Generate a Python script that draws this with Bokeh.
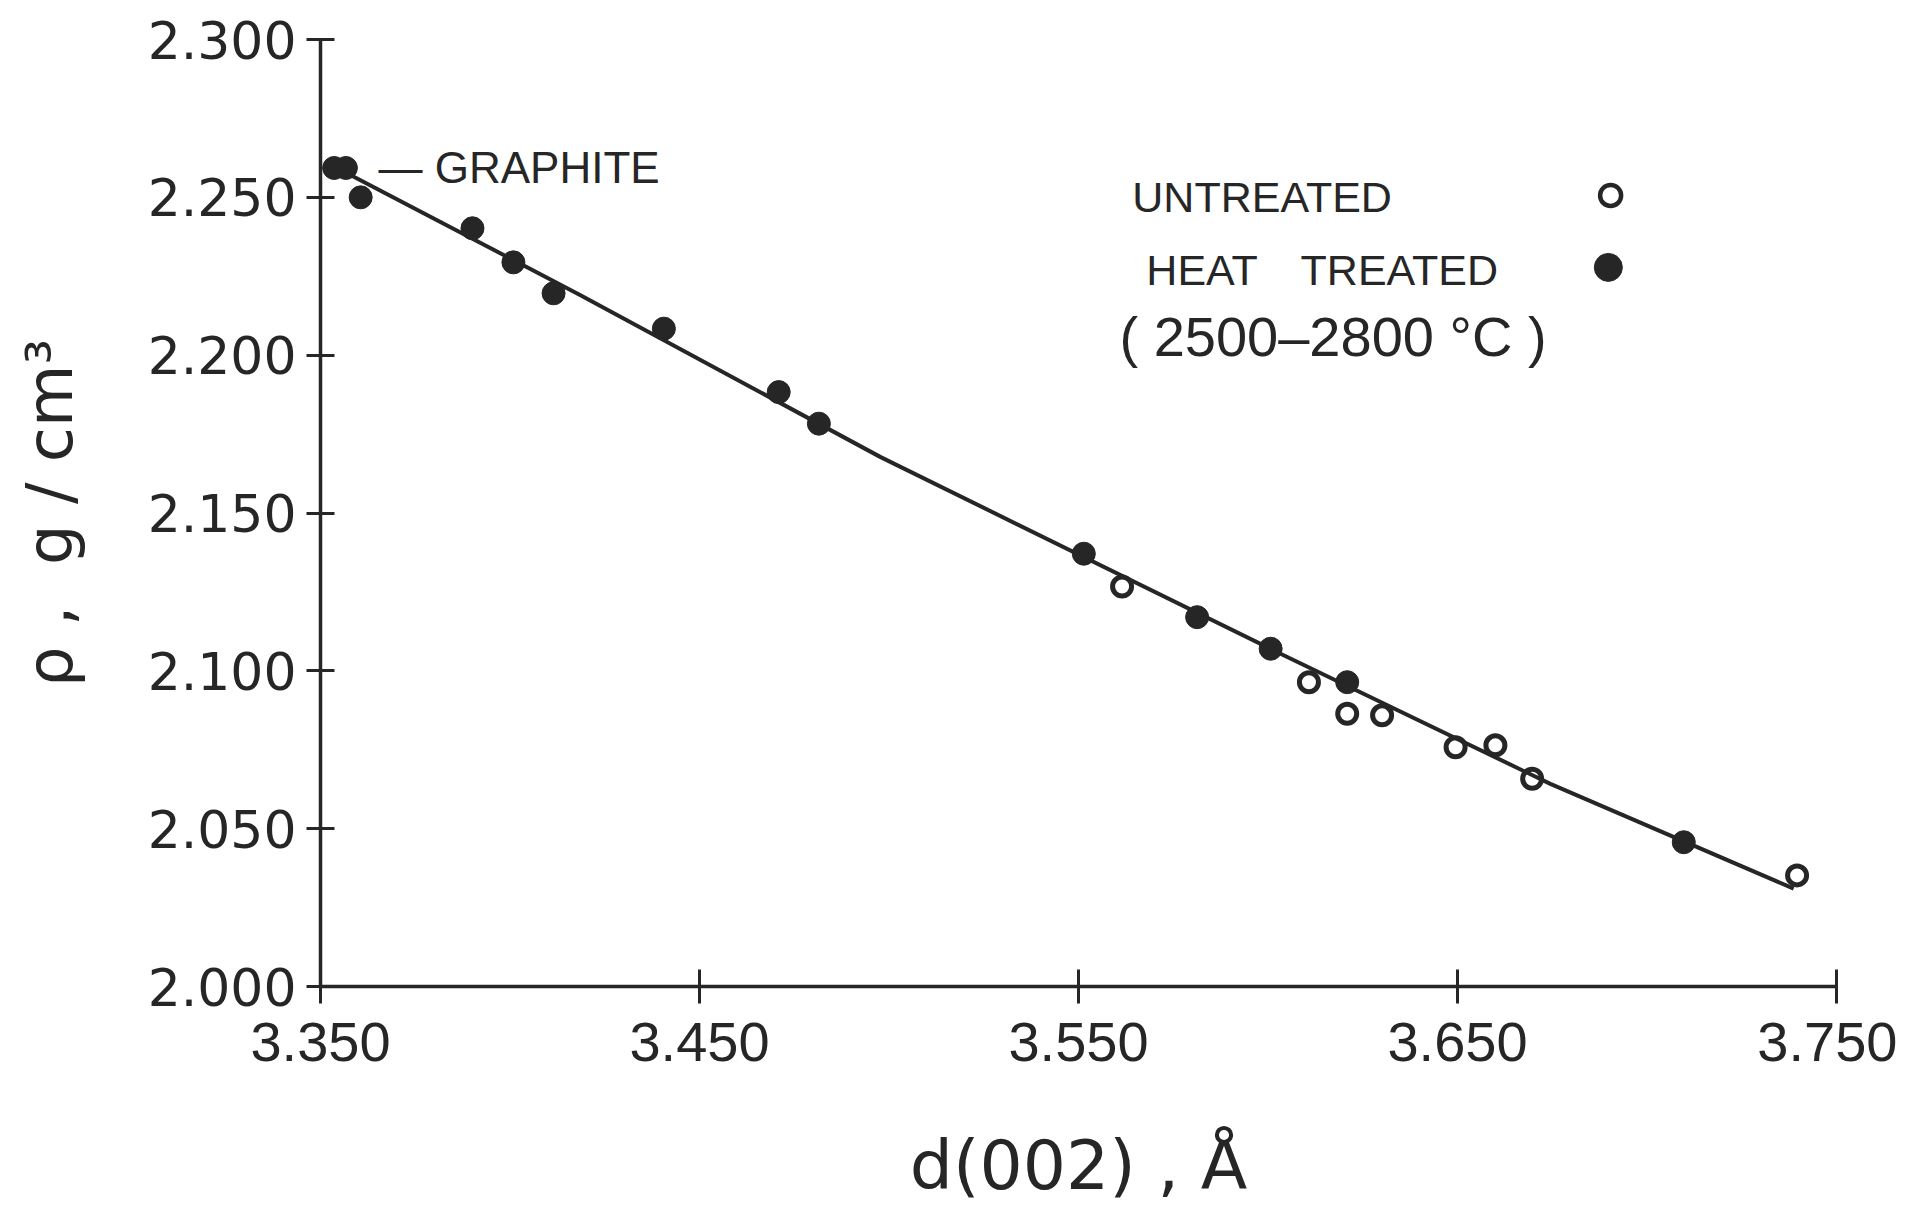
from bokeh.plotting import figure
from bokeh.models import Range1d, FixedTicker, NumeralTickFormatter, Label, ColumnDataSource
from bokeh.embed import file_html
from bokeh.resources import INLINE

# ---- data ----
heat_d = [3.3536, 3.3567, 3.3606, 3.3901, 3.4009, 3.4115, 3.4406, 3.4709, 3.4815,
          3.5514, 3.5813, 3.6007, 3.6209, 3.7097]
heat_rho = [2.2593, 2.2593, 2.2500, 2.2402, 2.2294, 2.2196, 2.2084, 2.1883, 2.1783,
            2.1371, 2.1170, 2.1070, 2.0964, 2.0457]
untreated_d = [3.5615, 3.6108, 3.6209, 3.6301, 3.6495, 3.6600, 3.6697, 3.7396]
untreated_rho = [2.1267, 2.0964, 2.0864, 2.0859, 2.0758, 2.0764, 2.0658, 2.0352]
fit_d = [3.3536, 3.4186, 3.4978, 3.6033, 3.6745, 3.7387]
fit_rho = [2.2598, 2.2190, 2.1677, 2.1054, 2.0642, 2.0310]
x_ticks = [3.35, 3.45, 3.55, 3.65, 3.75]
y_ticks = [2.000, 2.050, 2.100, 2.150, 2.200, 2.250, 2.300]

INK = "#262626"

p = figure(width=1897, height=1211,
           x_range=Range1d(3.35, 3.75), y_range=Range1d(2.0, 2.3),
           output_backend="svg", toolbar_location=None,
           min_border_left=320, min_border_right=61,
           min_border_top=39, min_border_bottom=225)
p.outline_line_color = None
p.grid.visible = False
p.background_fill_color = "white"
p.border_fill_color = "white"

# axes
p.xaxis.ticker = FixedTicker(ticks=x_ticks)
p.xaxis.formatter = NumeralTickFormatter(format="0.000")
p.yaxis.ticker = FixedTicker(ticks=y_ticks)
p.yaxis.formatter = NumeralTickFormatter(format="0.000")
for ax in (p.xaxis, p.yaxis):
    ax.axis_line_width = 3.5
    ax.axis_line_color = INK
    ax.major_tick_line_width = 3
    ax.major_tick_line_color = INK
    ax.minor_tick_line_color = None
    ax.major_label_text_color = INK
    ax.axis_label_text_color = INK
    ax.axis_label_text_font = "DejaVu Sans"
    ax.axis_label_text_font_style = "normal"
p.xaxis.major_tick_in = 17
p.xaxis.major_tick_out = 17
p.xaxis.major_label_standoff = 19
p.xaxis.major_label_text_font = "Liberation Sans"
p.xaxis.major_label_text_font_size = "56px"
p.yaxis.major_tick_in = 14
p.yaxis.major_tick_out = 14
p.yaxis.major_label_standoff = 10
p.yaxis.major_label_text_font = "DejaVu Sans"
p.yaxis.major_label_text_font_size = "52px"

# axis titles
p.xaxis.axis_label = "d(002) , \u00c5"
p.xaxis.axis_label_text_font_size = "68px"
p.xaxis.axis_label_standoff = 62
p.yaxis.axis_label = "\u03c1 ,\u00a0 g / cm\u00b3"
p.yaxis.axis_label_text_font_size = "64px"
p.yaxis.axis_label_standoff = 58

# fitted curve
p.line(fit_d, fit_rho, line_color=INK, line_width=4)

# data
heat = ColumnDataSource(dict(x=heat_d, y=heat_rho))
unt = ColumnDataSource(dict(x=untreated_d, y=untreated_rho))
p.scatter("x", "y", source=heat, marker="circle", size=23,
          fill_color=INK, line_color=INK, line_width=1)
p.scatter("x", "y", source=unt, marker="circle", size=19,
          fill_color=None, line_color=INK, line_width=5)

# legend keys
p.scatter([3.6904], [2.2506], marker="circle", size=21, fill_color=None,
          line_color=INK, line_width=4.5)
p.scatter([3.6898], [2.2278], marker="circle", size=28, fill_color=INK,
          line_color=INK)

def lab(x, y, text, size="44px"):
    p.add_layout(Label(x=x, y=y, text=text, text_font="Liberation Sans",
                       text_font_size=size, text_color=INK, text_align="left",
                       text_baseline="alphabetic"))

lab(3.3653, 2.2595, "\u2014 GRAPHITE", size="44px")
lab(3.5642, 2.2500, "UNTREATED", size="43px")
lab(3.5679, 2.2270, "HEAT", size="43px")
lab(3.6086, 2.2270, "TREATED", size="43px")
lab(3.5608, 2.2060, "( 2500\u20132800 \u00b0C )", size="56px")

open("out.html", "w").write(file_html(p, INLINE))
